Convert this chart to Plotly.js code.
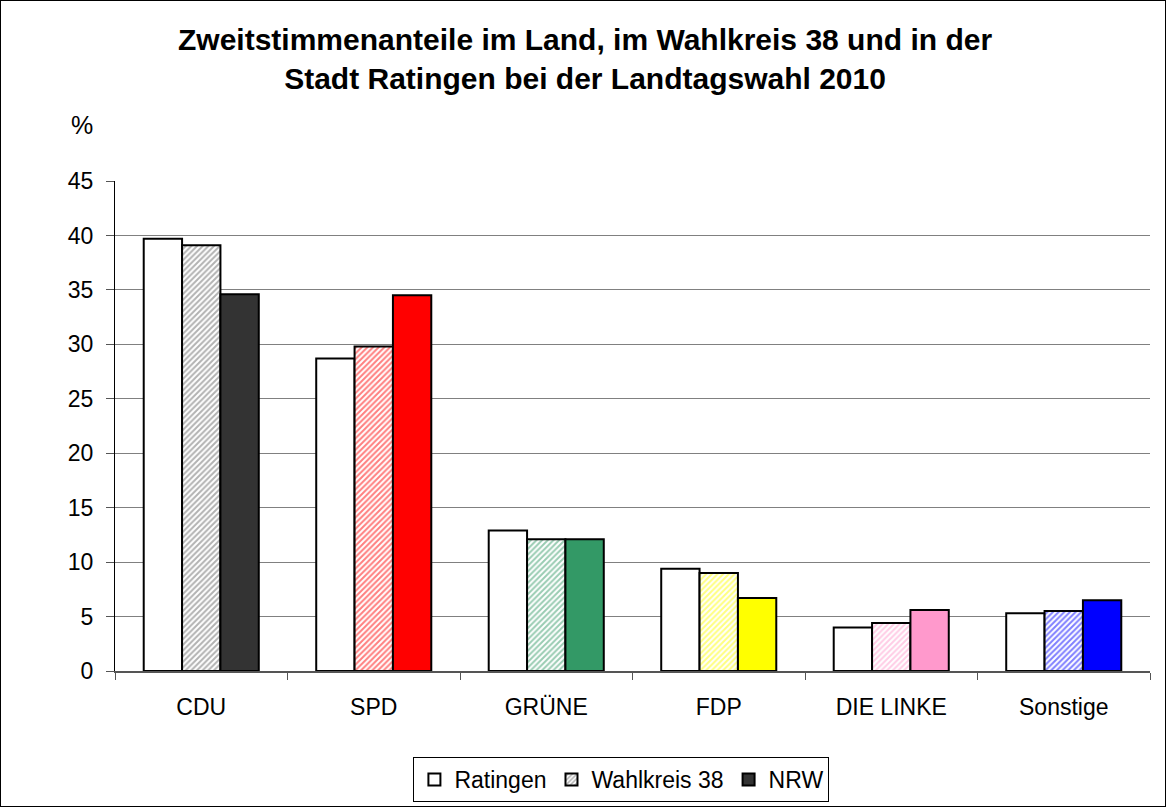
<!DOCTYPE html>
<html><head><meta charset="utf-8">
<script src="https://cdn.plot.ly/plotly-3.0.1.min.js"></script>
<style>html,body{margin:0;padding:0;background:#fff}#chart{width:1164px;height:805px;border:1px solid #000}</style>
</head><body><div id="chart"></div>
<script>
const categories = ["CDU", "SPD", "GRÜNE", "FDP", "DIE LINKE", "Sonstige"];
const ratingen = [39.7, 28.7, 12.9, 9.4, 4.0, 5.3];
const wahlkreis = [39.1, 29.8, 12.1, 9.0, 4.4, 5.5];
const nrw = [34.6, 34.5, 12.1, 6.7, 5.6, 6.5];
const partyColors = ["#333333", "#ff0000", "#339966", "#ffff00", "#ff99cc", "#0000ff"];
const hatchColors = ["#666666", "#ff0000", "#339966", "#ffff00", "#ff99cc", "#0000ff"];
const seriesNames = ["Ratingen", "Wahlkreis 38", "NRW"];
const titleText = "<b>Zweitstimmenanteile im Land, im Wahlkreis 38 und in der<br>Stadt Ratingen bei der Landtagswahl 2010</b>";

const font = "Liberation Sans, Arial, sans-serif";
const traces = [
  {type: "bar", name: seriesNames[0], x: categories, y: ratingen,
   marker: {color: "#ffffff", line: {color: "#000", width: 2}}},
  {type: "bar", name: seriesNames[1], x: categories, y: wahlkreis,
   marker: {color: "#ffffff", line: {color: "#000", width: 2},
     pattern: {shape: "/", fgcolor: hatchColors, bgcolor: "#ffffff", size: 4, solidity: 0.5, fillmode: "overlay"}}},
  {type: "bar", name: seriesNames[2], x: categories, y: nrw,
   marker: {color: partyColors, line: {color: "#000", width: 2}}}
];
const layout = {
  width: 1164, height: 805,
  margin: {l: 114, r: 15, t: 180, b: 135},
  paper_bgcolor: "#fff", plot_bgcolor: "#fff",
  barmode: "group", bargap: 0.333, bargroupgap: 0,
  xaxis: {automargin: false, tickfont: {family: font, size: 23, color: "#000"}, showline: true, linecolor: "#555555", linewidth: 2,
    ticks: "outside", tickson: "boundaries", ticklen: 7, tickcolor: "#555555", showgrid: false, ticklabelstandoff: 14},
  yaxis: {automargin: false, range: [0, 45], dtick: 5, tickfont: {family: font, size: 23, color: "#000"}, showline: true, linecolor: "#000", linewidth: 1,
    ticks: "outside", ticklen: 8, tickcolor: "#555555", gridcolor: "#808080", gridwidth: 1, zeroline: false,
    ticklabelstandoff: 8, title: {text: ""}},
  showlegend: true,
  legend: {orientation: "h", xref: "container", yref: "container", x: 0.533, xanchor: "center", y: 0.033, yanchor: "middle",
    bordercolor: "#000", borderwidth: 1, font: {family: font, size: 23, color: "#000"}, itemwidth: 30, tracegroupgap: 0},
  annotations: [
    {text: titleText, xref: "paper", yref: "paper", x: 0.454, y: 1.25, showarrow: false,
     xanchor: "center", yanchor: "middle", align: "center", font: {family: font, size: 30, color: "#000"}},
    {text: "%", xref: "paper", yref: "paper", x: -0.032, y: 1.114, showarrow: false,
     font: {family: font, size: 25, color: "#000"}, xanchor: "center", yanchor: "middle"}]
};
Plotly.newPlot("chart", traces, layout, {displayModeBar: false, staticPlot: true});
</script></body></html>
